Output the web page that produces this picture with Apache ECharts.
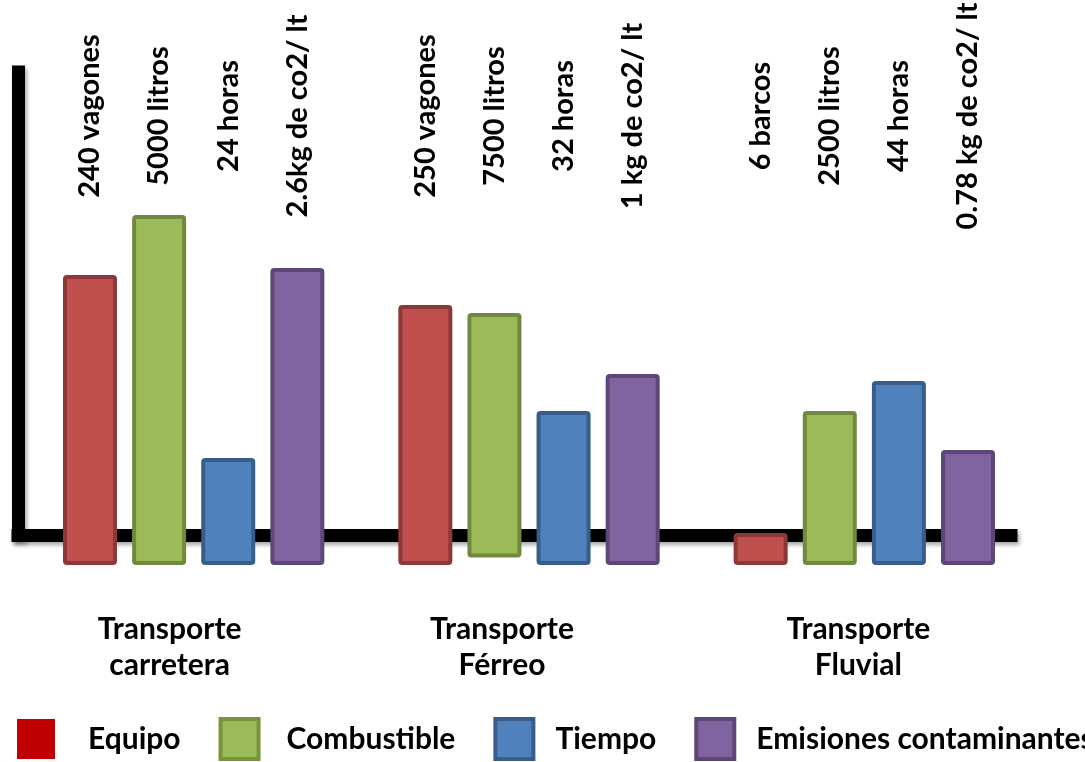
<!DOCTYPE html>
<html>
<head>
<meta charset="utf-8">
<title>Transporte</title>
<script src="https://cdn.jsdelivr.net/npm/echarts@6/dist/echarts.min.js"></script>
<style>
  html, body { margin: 0; padding: 0; background: #ffffff; }
  #chart { width: 1085px; height: 762px; }
</style>
</head>
<body>
<div id="chart"></div>
<script>
// Categories (two-line axis labels)
const categories = ['Transporte\ncarretera', 'Transporte\nFérreo', 'Transporte\nFluvial'];

// Series names
const seriesNames = ['Equipo', 'Combustible', 'Tiempo', 'Emisiones contaminantes'];

// Bar tops (relative scale 0-100)
const equipo = [58, 52, 6.4];
const combustible = [70, 50.4, 30.8];
const tiempo = [21.4, 30.8, 36.8];
const emisiones = [59.4, 38.2, 23];

// Bar bottoms (only the rail fuel bar starts a little above the baseline)
const combustibleBase = [0, 1.5, 0];

// Text written above each bar
const equipoLabels = ['240 vagones', '250 vagones', '6 barcos'];
const combustibleLabels = ['5000 litros', '7500 litros', '2500 litros'];
const tiempoLabels = ['24 horas', '32 horas', '44 horas'];
const emisionesLabels = ['2.6kg de co2/ lt', '1 kg de co2/ lt', '0.78 kg de co2/ lt'];

const FONT = 'Lato';
const fills = ['#C0504D', '#9BBB59', '#4F81BD', '#8064A2'];
const borders = ['#8C3836', '#71893F', '#385D8A', '#5C4776'];

const BAR_W = 54;
const BAR_GAP = '28%';

function barStyle(i) {
  return { color: fills[i], borderColor: borders[i], borderWidth: 4, borderRadius: 2 };
}

const chart = echarts.init(document.getElementById('chart'), null, { renderer: 'canvas' });

// Transparent bars in the top band that only carry the rotated texts
function labelSeries(texts, idx) {
  return {
    type: 'bar',
    name: 'txt' + idx,
    xAxisIndex: 1,
    yAxisIndex: 1,
    silent: true,
    barWidth: BAR_W,
    barGap: BAR_GAP,
    data: texts.map(() => 1),
    itemStyle: { color: 'rgba(0,0,0,0)' },
    label: {
      show: true,
      position: 'inside',
      rotate: 90,
      align: 'center',
      verticalAlign: 'middle',
      fontFamily: FONT,
      fontWeight: 'bold',
      fontSize: 29,
      color: '#000000',
      formatter: (p) => texts[p.dataIndex]
    },
    emphasis: { disabled: true }
  };
}

const frameLine = {
  show: true,
  lineStyle: {
    color: '#000000', width: 13, cap: 'square',
    shadowColor: 'rgba(0,0,0,0.35)', shadowBlur: 4, shadowOffsetX: 2, shadowOffsetY: 3
  }
};

const legendText = { fontFamily: FONT, fontWeight: 'bold', fontSize: 30, color: '#000000' };

const option = {
  backgroundColor: '#ffffff',
  animation: false,
  textStyle: { fontFamily: FONT },
  grid: [
    // bars
    { left: 26, right: 53, top: 65, bottom: 197 },
    // text band above
    { left: 26, right: 53, top: 0, bottom: 530 },
    // L-shaped frame
    { left: 18, right: 74, top: 72, bottom: 227 }
  ],
  xAxis: [
    {
      type: 'category',
      gridIndex: 0,
      data: [
        { value: categories[0], textStyle: { padding: [0, 48, 0, 0] } },
        { value: categories[1], textStyle: { padding: [0, 54, 0, 0] } },
        { value: categories[2], textStyle: { padding: [0, 12, 0, 0] } }
      ],
      axisLine: { show: false },
      axisTick: { show: false },
      axisLabel: {
        margin: 46,
        fontFamily: FONT,
        fontWeight: 'bold',
        fontSize: 30,
        lineHeight: 36,
        color: '#000000'
      }
    },
    { type: 'category', gridIndex: 1, data: categories, show: false },
    {
      type: 'value', gridIndex: 2, min: 0, max: 1,
      axisLine: frameLine,
      axisTick: { show: false }, axisLabel: { show: false }, splitLine: { show: false }
    }
  ],
  yAxis: [
    { type: 'value', gridIndex: 0, min: 0, max: 100, show: false },
    { type: 'value', gridIndex: 1, min: 0, max: 1, show: false },
    {
      type: 'value', gridIndex: 2, min: 0, max: 1,
      axisLine: frameLine,
      axisTick: { show: false }, axisLabel: { show: false }, splitLine: { show: false }
    }
  ],
  legend: {
    left: 17,
    top: 717,
    width: 1300,
    padding: 0,
    itemWidth: 38,
    itemHeight: 40,
    itemGap: 38,
    selectedMode: false,
    formatter: (name) => name === seriesNames[0] ? '{wide|' + name + '}' : name,
    textStyle: Object.assign({}, legendText, {
      padding: [0, 0, 0, 17],
      rich: { wide: Object.assign({}, legendText, { padding: [0, 8, 0, 0] }) }
    }),
    data: [
      {
        name: seriesNames[0], icon: 'rect',
        itemStyle: { color: '#C00000', borderColor: '#C00000', borderWidth: 0 },
        textStyle: { padding: [0, 0, 0, 28] }
      },
      {
        name: seriesNames[1], icon: 'rect',
        itemStyle: { color: fills[1], borderColor: '#77933C', borderWidth: 4 },
        textStyle: { padding: [0, 0, 0, 23] }
      },
      {
        name: seriesNames[2], icon: 'rect',
        itemStyle: { color: fills[2], borderColor: borders[2], borderWidth: 4 }
      },
      {
        name: seriesNames[3], icon: 'rect',
        itemStyle: { color: fills[3], borderColor: borders[3], borderWidth: 4 }
      }
    ]
  },
  series: [
    {
      type: 'bar', name: seriesNames[0], xAxisIndex: 0, yAxisIndex: 0,
      barWidth: BAR_W, barGap: BAR_GAP,
      data: equipo, itemStyle: barStyle(0)
    },
    {
      type: 'bar', name: 'combustible-base', xAxisIndex: 0, yAxisIndex: 0, stack: 'comb',
      barWidth: BAR_W, barGap: BAR_GAP, silent: true,
      data: combustibleBase, itemStyle: { color: 'rgba(0,0,0,0)' }
    },
    {
      type: 'bar', name: seriesNames[1], xAxisIndex: 0, yAxisIndex: 0, stack: 'comb',
      barWidth: BAR_W, barGap: BAR_GAP,
      data: combustible.map((v, i) => v - combustibleBase[i]), itemStyle: barStyle(1)
    },
    {
      type: 'bar', name: seriesNames[2], xAxisIndex: 0, yAxisIndex: 0,
      barWidth: BAR_W, barGap: BAR_GAP,
      data: tiempo, itemStyle: barStyle(2)
    },
    {
      type: 'bar', name: seriesNames[3], xAxisIndex: 0, yAxisIndex: 0,
      barWidth: BAR_W, barGap: BAR_GAP,
      data: emisiones, itemStyle: barStyle(3)
    },
    labelSeries(equipoLabels, 0),
    labelSeries(combustibleLabels, 1),
    labelSeries(tiempoLabels, 2),
    labelSeries(emisionesLabels, 3)
  ]
};

chart.setOption(option);
</script>
</body>
</html>
